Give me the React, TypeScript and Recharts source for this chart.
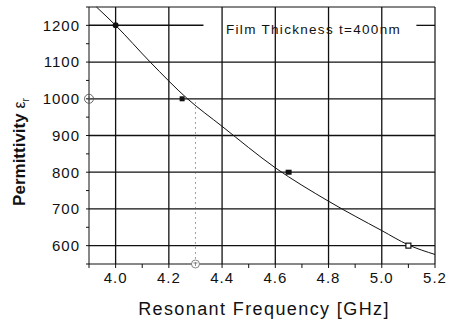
import React from "react";
import {
    ComposedChart,
    Line,
    Scatter,
    XAxis,
    YAxis,
    ReferenceLine,
} from "recharts";

// fitted permittivity curve vs resonant frequency
const CURVE_F = [3.928, 4.0, 4.13, 4.27, 4.4, 4.6, 4.8, 5.0, 5.1, 5.2];
const CURVE_EPS = [1250, 1200, 1100, 1000, 925, 812, 721, 641, 602, 576];

// measured / marked points
const FILLED_CIRCLE = [{ f: 4.0, eps: 1200 }];
const FILLED_SQUARE_SMALL = [{ f: 4.25, eps: 1000 }];
const FILLED_SQUARE = [{ f: 4.65, eps: 800 }];
const OPEN_SQUARE = [{ f: 5.1, eps: 600 }];
const CROSS_CIRCLE = [{ f: 3.9, eps: 1000 }];
const OPEN_CIRCLE = [{ f: 4.3, eps: 550 }];

const X_TICKS = [3.9, 4.0, 4.1, 4.2, 4.3, 4.4, 4.5, 4.6, 4.7, 4.8, 4.9, 5.0, 5.1, 5.2];
const Y_TICKS = [550, 600, 650, 700, 750, 800, 850, 900, 950, 1000, 1050, 1100, 1150, 1200, 1250];
const X_GRID = [4.0, 4.2, 4.4, 4.6, 4.8, 5.0];
const Y_GRID = [600, 700, 800, 900, 1000, 1100];

const LEGEND_TEXT = "Film Thickness t=400nm";

const curveData = CURVE_F.map((f, i) => ({ f, eps: CURVE_EPS[i] }));

const FONT = "'Liberation Sans', Arial, sans-serif";
const INK = "#111";

const xFmt = (v: number) => (Math.round(v * 10) % 2 === 0 ? v.toFixed(1) : "");
const yFmt = (v: number) => (v % 100 === 0 ? String(v) : "");

const YTitle = () => (
    <text
        x={25}
        y={152}
        transform="rotate(-90, 25, 152)"
        textAnchor="middle"
        fontFamily={FONT}
        fill={INK}
    >
        <tspan fontSize={17} fontWeight="bold">Permittivity </tspan>
        <tspan fontSize={16}>ε</tspan>
        <tspan fontSize={10} dy={4}>r</tspan>
    </text>
);

const XTitle = () => (
    <text
        x={264}
        y={315}
        textAnchor="middle"
        fontFamily={FONT}
        fontSize={18}
        letterSpacing={1.4}
        fill={INK}
    >
        Resonant Frequency [GHz]
    </text>
);

export default function App() {
    return (
        <div style={{ position: "absolute", left: 0, top: 0, background: "#fff" }}>
            <ComposedChart
                width={451}
                height={324}
                data={curveData}
                margin={{ top: 7, right: 16, bottom: 0, left: 0 }}
            >
                <XAxis
                    type="number"
                    dataKey="f"
                    domain={[3.9, 5.2]}
                    ticks={X_TICKS}
                    tickFormatter={xFmt}
                    interval={0}
                    height={60}
                    tickSize={4}
                    tickMargin={4}
                    stroke={INK}
                    tick={{ fill: INK, fontSize: 15, fontFamily: FONT, letterSpacing: 1 }}
                    label={{ content: XTitle }}
                />
                <YAxis
                    type="number"
                    dataKey="eps"
                    domain={[550, 1250]}
                    ticks={Y_TICKS}
                    tickFormatter={yFmt}
                    interval={0}
                    width={89}
                    tickSize={3}
                    tickMargin={6}
                    stroke={INK}
                    tick={{ fill: INK, fontSize: 15, fontFamily: FONT, letterSpacing: 1 }}
                    label={{ content: YTitle }}
                />

                {X_GRID.map((v) => (
                    <ReferenceLine key={`vx${v}`} x={v} stroke={INK} strokeWidth={1.3} />
                ))}
                {Y_GRID.map((v) => (
                    <ReferenceLine key={`hy${v}`} y={v} stroke={INK} strokeWidth={1.3} />
                ))}
                <ReferenceLine
                    segment={[{ x: 3.9, y: 1200 }, { x: 4.33, y: 1200 }]}
                    stroke={INK}
                    strokeWidth={1.5}
                />
                <ReferenceLine
                    segment={[{ x: 5.13, y: 1200 }, { x: 5.2, y: 1200 }]}
                    stroke={INK}
                    strokeWidth={1.3}
                />
                <ReferenceLine y={1250} stroke={INK} strokeWidth={1.2} />
                <ReferenceLine x={5.2} stroke={INK} strokeWidth={1.2} />
                <ReferenceLine
                    segment={[{ x: 4.3, y: 990 }, { x: 4.3, y: 555 }]}
                    stroke="#444"
                    strokeWidth={1}
                    strokeDasharray="1 4"
                />

                <Line
                    type="monotone"
                    dataKey="eps"
                    stroke={INK}
                    strokeWidth={1}
                    dot={false}
                    isAnimationActive={false}
                />

                <Scatter
                    data={FILLED_CIRCLE}
                    isAnimationActive={false}
                    shape={(p: any) => <circle cx={p.cx} cy={p.cy} r={3} fill={INK} />}
                />
                <Scatter
                    data={FILLED_SQUARE_SMALL}
                    isAnimationActive={false}
                    shape={(p: any) => (
                        <rect x={p.cx - 2.5} y={p.cy - 2.5} width={5} height={5} fill={INK} />
                    )}
                />
                <Scatter
                    data={FILLED_SQUARE}
                    isAnimationActive={false}
                    shape={(p: any) => (
                        <rect x={p.cx - 3} y={p.cy - 2.5} width={6} height={5} fill={INK} />
                    )}
                />
                <Scatter
                    data={OPEN_SQUARE}
                    isAnimationActive={false}
                    shape={(p: any) => (
                        <rect
                            x={p.cx - 2.5}
                            y={p.cy - 2.5}
                            width={5}
                            height={5}
                            fill="#fff"
                            stroke={INK}
                            strokeWidth={1.2}
                        />
                    )}
                />
                <Scatter
                    data={CROSS_CIRCLE}
                    isAnimationActive={false}
                    shape={(p: any) => (
                        <g stroke="#555" strokeWidth={0.9} fill="none">
                            <circle cx={p.cx} cy={p.cy} r={4.5} />
                            <line x1={p.cx - 2.5} y1={p.cy} x2={p.cx + 2.5} y2={p.cy} />
                            <line x1={p.cx} y1={p.cy - 2.5} x2={p.cx} y2={p.cy + 2.5} />
                        </g>
                    )}
                />
                <Scatter
                    data={OPEN_CIRCLE}
                    isAnimationActive={false}
                    shape={(p: any) => (
                        <g stroke="#777" strokeWidth={0.9} fill="#fff">
                            <circle cx={p.cx} cy={p.cy} r={4} />
                            <line x1={p.cx - 2} y1={p.cy - 1} x2={p.cx + 2} y2={p.cy - 1} />
                            <line x1={p.cx} y1={p.cy - 2} x2={p.cx} y2={p.cy + 2} />
                        </g>
                    )}
                />
            </ComposedChart>
            <div
                style={{
                    position: "absolute",
                    left: 226,
                    top: 22,
                    fontFamily: FONT,
                    fontSize: 13.5,
                    letterSpacing: 1.3,
                    color: INK,
                    lineHeight: "16px",
                    whiteSpace: "nowrap",
                }}
            >
                {LEGEND_TEXT}
            </div>
        </div>
    );
}
